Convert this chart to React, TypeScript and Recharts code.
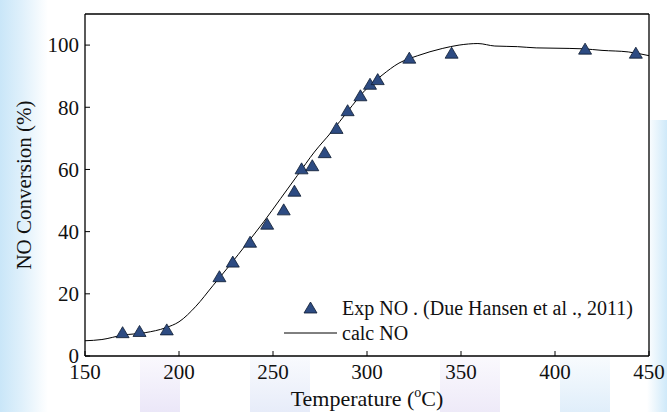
import React from "react";
import {
  ComposedChart,
  Line,
  Scatter,
  XAxis,
  YAxis,
  CartesianGrid,
} from "recharts";

// experimental points (Due Hansen et al., 2011)
const expTemp = [170, 179, 193.5, 221.5, 228.6, 237.8, 246.9, 255.7, 261.4, 265.2, 270.9, 277.5, 283.8, 289.7, 296.5, 301.6, 305.7, 322.5, 345, 416, 443];
const expConv = [7.5, 7.9, 8.4, 25.5, 30.2, 36.6, 42.4, 47, 53, 60.2, 61.2, 65.4, 73.2, 78.9, 83.7, 87.4, 88.9, 95.8, 97.4, 98.7, 97.4];

// model curve
const calcTemp = [150, 159, 170, 182, 193, 200, 209, 218, 227, 236, 245, 254, 263, 272, 281, 290, 299, 308, 317, 327, 340, 349, 359, 368, 380, 390, 400, 415, 425, 439, 450];
const calcConv = [4.9, 5.3, 6.7, 7.5, 9.1, 11, 16, 22.6, 29.2, 36.1, 43.1, 50.6, 58.1, 65.6, 72, 78.9, 85.5, 90.3, 94.2, 96.6, 98.9, 100, 100.5, 99.7, 99.5, 99.1, 99.0, 98.8, 98.3, 97.8, 96.6];

const xTicks = [150, 200, 250, 300, 350, 400, 450];
const yTicks = [0, 20, 40, 60, 80, 100];

const expData = expTemp.map((t, i) => ({ t, v: expConv[i] }));
const calcData = calcTemp.map((t, i) => ({ t, v: calcConv[i] }));

const FONT = "'Liberation Serif', 'Times New Roman', serif";
const MARKER = "#2d4b82";

const Triangle = (props: any) => {
  const { cx, cy } = props;
  if (cx == null || cy == null) return null;
  return (
    <polygon
      points={`${cx - 6.5},${cy + 5} ${cx + 6.5},${cy + 5} ${cx},${cy - 6}`}
      fill={MARKER}
      stroke="#0d1a30"
      strokeWidth={0.8}
    />
  );
};

const XTick = (props: any) => {
  const { x, y, payload } = props;
  return (
    <text x={x} y={y} dy="0.71em" textAnchor="middle" fontFamily={FONT} fontSize={21} fill="#111">
      {payload.value}
    </text>
  );
};

const YTick = (props: any) => {
  const { x, y, payload } = props;
  return (
    <text x={x} y={y} dy="0.35em" textAnchor="end" fontFamily={FONT} fontSize={21} fill="#111">
      {payload.value}
    </text>
  );
};

const LegendBox = () => (
  <svg
    width={360}
    height={50}
    style={{ position: "absolute", left: 280, top: 296, fontFamily: FONT, fontSize: 20 }}
  >
    <polygon points="24,17 37,17 30.5,6" fill={MARKER} stroke="#0d1a30" strokeWidth={0.8} />
    <text x={62} y={19} fill="#111">Exp NO . (Due Hansen et al ., 2011)</text>
    <line x1={4} x2={57} y1={37} y2={37} stroke="#000" strokeWidth={1} />
    <text x={62} y={44} fill="#111">calc NO</text>
  </svg>
);

const XLabel = (props: any) => {
  const { viewBox } = props;
  const cx = viewBox.x + viewBox.width / 2;
  return (
    <text x={cx} y={406} textAnchor="middle" fontFamily={FONT} fontSize={22} fill="#111">
      <tspan>Temperature (</tspan>
      <tspan fontSize={14} dy={-9}>o</tspan>
      <tspan dy={9}>C)</tspan>
    </text>
  );
};

const YLabel = (props: any) => {
  const { viewBox } = props;
  const cy = viewBox.y + viewBox.height / 2;
  return (
    <text
      x={31}
      y={cy}
      textAnchor="middle"
      transform={`rotate(-90, 31, ${cy})`}
      fontFamily={FONT}
      fontSize={21}
      fill="#111"
    >
      NO Conversion (%)
    </text>
  );
};

const axisLine = { stroke: "#000", strokeWidth: 1.3 };

export default function App() {
  return (
    <div style={{ position: "relative", width: 667, height: 412, overflow: "hidden", background: "#fff", fontFamily: FONT }}>
      <style>{`body{margin:0}`}</style>
      {/* faint watermark background */}
      <div style={{ position: "absolute", left: 0, top: 0, width: 48, height: 412, background: "linear-gradient(90deg, #c9e6f8 0%, #dff0fb 45%, rgba(255,255,255,0) 100%)" }} />
      <div style={{ position: "absolute", right: 0, top: 120, width: 20, height: 292, background: "linear-gradient(270deg, #cfe9f9 0%, rgba(255,255,255,0) 100%)" }} />
      <div style={{ position: "absolute", left: 140, top: 356, width: 40, height: 56, background: "linear-gradient(180deg, rgba(230,224,246,0.2), #ebe7f8)" }} />
      <div style={{ position: "absolute", left: 250, top: 356, width: 60, height: 56, background: "linear-gradient(180deg, rgba(224,232,248,0.2), #e7ecf9)" }} />
      <div style={{ position: "absolute", left: 440, top: 356, width: 60, height: 56, background: "linear-gradient(180deg, rgba(232,226,246,0.2), #eeeaf8)" }} />
      <div style={{ position: "absolute", left: 560, top: 356, width: 50, height: 56, background: "linear-gradient(180deg, rgba(220,236,250,0.2), #e0eefa)" }} />
      <div style={{ position: "absolute", left: 0, top: 0 }}>
        <ComposedChart
          width={667}
          height={412}
          margin={{ top: 13, right: 17, bottom: 0, left: 0 }}
        >
          <CartesianGrid horizontal={false} vertical={false} fill="#fff" xAxisId="b" yAxisId="l" />
          <XAxis
            xAxisId="b"
            type="number"
            dataKey="t"
            domain={[150, 450]}
            ticks={xTicks}
            allowDataOverflow
            height={56}
            tickSize={-5}
            tickMargin={13}
            tick={<XTick />}
            axisLine={axisLine}
            tickLine={{ stroke: "#000" }}
            label={<XLabel />}
          />
          <XAxis
            xAxisId="top"
            orientation="top"
            type="number"
            dataKey="t"
            domain={[150, 450]}
            ticks={xTicks}
            allowDataOverflow
            height={1}
            tickSize={-5}
            tick={false}
            axisLine={axisLine}
            tickLine={{ stroke: "#000" }}
          />
          <YAxis
            yAxisId="l"
            type="number"
            domain={[0, 110]}
            ticks={yTicks}
            allowDataOverflow
            width={85}
            tickSize={-5}
            tickMargin={11}
            tick={<YTick />}
            axisLine={axisLine}
            tickLine={{ stroke: "#000" }}
            label={<YLabel />}
          />
          <YAxis
            yAxisId="r"
            orientation="right"
            type="number"
            domain={[0, 110]}
            ticks={yTicks}
            allowDataOverflow
            width={1}
            tickSize={-5}
            tick={false}
            axisLine={axisLine}
            tickLine={{ stroke: "#000" }}
          />
          <Line
            xAxisId="b"
            yAxisId="l"
            data={calcData}
            dataKey="v"
            type="monotone"
            stroke="#000"
            strokeWidth={1}
            dot={false}
            isAnimationActive={false}
            name="calc NO"
          />
          <Scatter
            xAxisId="b"
            yAxisId="l"
            data={expData}
            dataKey="v"
            shape={<Triangle />}
            isAnimationActive={false}
            name="Exp NO"
          />
          {/* dummy series to bind the mirror axes */}
          <Line
            xAxisId="top"
            yAxisId="r"
            data={calcData}
            dataKey="v"
            stroke="none"
            dot={false}
            activeDot={false}
            isAnimationActive={false}
          />
        </ComposedChart>
      </div>
      <LegendBox />
    </div>
  );
}
